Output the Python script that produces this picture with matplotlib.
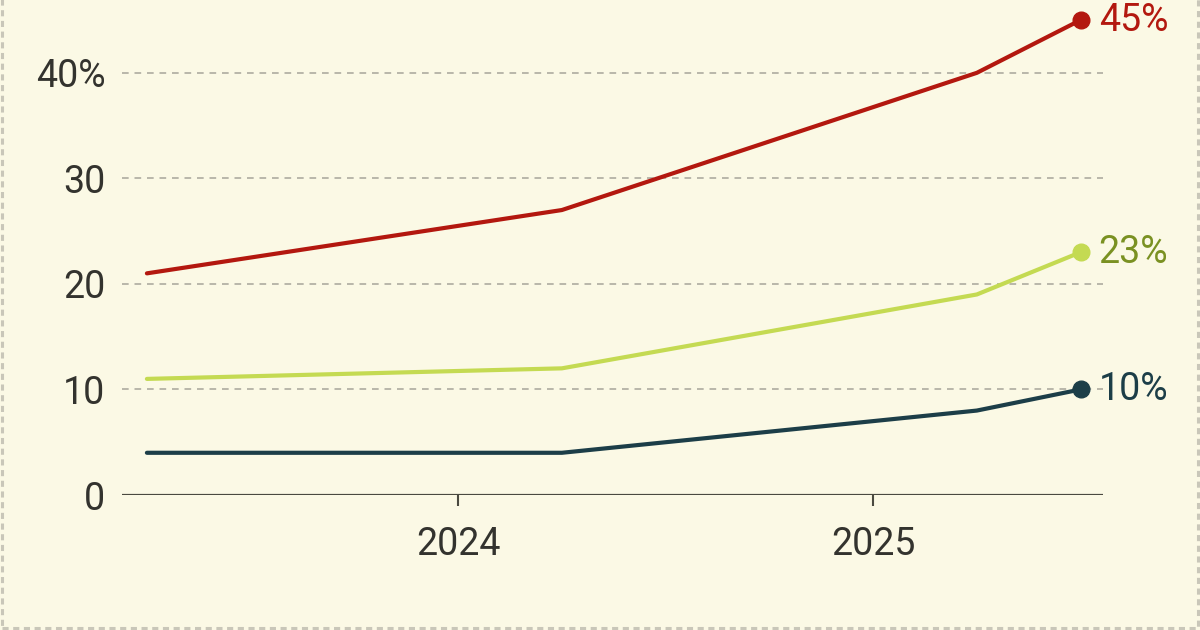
import matplotlib.pyplot as plt
from matplotlib.patches import Rectangle

# survey dates (decimal years) and shares in percent
dates = [2023.25, 2024.25, 2025.25, 2025.5]
red_vals = [21, 27, 40, 45]
green_vals = [11, 12, 19, 23]
dark_vals = [4, 4, 8, 10]

y_ticks = [0, 10, 20, 30, 40]
y_labels = ["0", "10", "20", "30", "40%"]
x_ticks = [2024, 2025]
x_labels = ["2024", "2025"]

bg = "#FBF9E5"
plt.rcParams['font.family'] = ['Roboto', 'DejaVu Sans']

fig = plt.figure(figsize=(12, 6.3), dpi=100, facecolor=bg)
ax = fig.add_axes([122 / 1200, 1 - 495 / 630, (1103 - 122) / 1200, 495 / 630])
ax.set_facecolor(bg)

series = [
    (red_vals, "#B3180F", "#B3180F"),
    (green_vals, "#C4DA52", "#7A9122"),
    (dark_vals, "#1C3E48", "#1C3E48"),
]
for vals, col, txtcol in series:
    ax.plot(dates, vals, color=col, lw=3, solid_capstyle='round', zorder=3)
    ax.plot(dates[-1], vals[-1], 'o', color=col, ms=12, zorder=4, clip_on=False)
    ax.annotate(f"{vals[-1]}%", (dates[-1], vals[-1]), xytext=(13, 0),
                textcoords='offset points', va='center', ha='left',
                color=txtcol, fontsize=27, annotation_clip=False)

ax.set_xlim(2023.19, 2025.554)
ax.set_ylim(0, 46.9)

ax.set_yticks(y_ticks)
ax.set_yticklabels(y_labels)
ax.set_xticks(x_ticks)
ax.set_xticklabels(x_labels)

for y in y_ticks[1:]:
    ax.axhline(y, color="#ADABA0", lw=1.2, ls=(0, (4, 3.5)), zorder=1)
ax.axhline(0, color="#4A4A40", lw=2.3, zorder=2)

for s in ax.spines.values():
    s.set_visible(False)

ax.tick_params(axis='y', length=0, pad=12, labelsize=27, labelcolor="#33332E")
ax.tick_params(axis='x', length=8, width=1.5, color="#4A4A40", pad=14,
               labelsize=27, labelcolor="#33332E")

# dashed frame around the figure (top edge cropped away)
fig.patches.append(Rectangle((2 / 1200, 2 / 630), 1196 / 1200, 0.999 + 10 / 630,
                             transform=fig.transFigure, fill=False,
                             edgecolor="#C9C7B9", lw=2.2, ls=(0, (2, 1.5)),
                             clip_on=False))

fig.savefig("out.png", dpi=100, facecolor=bg)
